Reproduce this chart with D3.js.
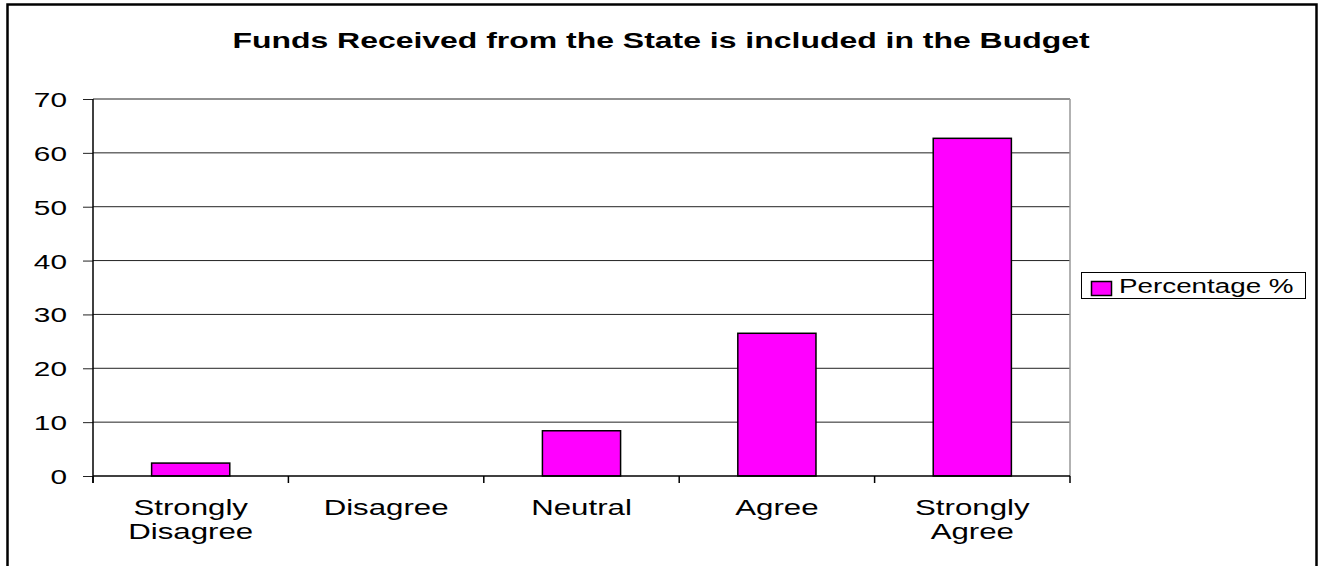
<!DOCTYPE html>
<html>
<head>
<meta charset="utf-8">
<script src="https://cdn.jsdelivr.net/npm/d3@7"></script>
<style>
  body { margin: 0; background: #fff; }
  svg { font-family: Arial, "Liberation Sans", sans-serif; }
</style>
</head>
<body>
<svg width="1322" height="566"></svg>
<script>
var categories = ["Strongly Disagree", "Disagree", "Neutral", "Agree", "Strongly Agree"];
var percentages = [2.4, 0, 8.4, 26.5, 62.7];
var yTicks = [0, 10, 20, 30, 40, 50, 60, 70];
var seriesName = "Percentage %";
var title = "Funds Received from the State is included in the Budget";

// the picture is stretched sideways, so text is widened the same way
var sx = 1.42;

var svg = d3.select("svg"),
  margin = { top: 99, right: 252, bottom: 90, left: 93 },
  width = +svg.attr("width") - margin.left - margin.right,
  height = +svg.attr("height") - margin.top - margin.bottom;

// outer chart border
svg.append("rect")
  .attr("x", 7.5).attr("y", 4.5)
  .attr("width", 1309).attr("height", 600)
  .attr("fill", "none").attr("stroke", "#000").attr("stroke-width", 2.5);

svg.append("text")
  .attr("transform", "translate(661,48) scale(" + sx + ",1)")
  .attr("text-anchor", "middle")
  .attr("font-size", 22.5)
  .attr("font-weight", "bold")
  .text(title);

var x = d3.scaleBand().domain(categories).range([0, width]).padding(0),
  y = d3.scaleLinear().domain([0, 70]).range([height, 0]);

var g = svg.append("g")
  .attr("transform", "translate(" + margin.left + "," + margin.top + ")");

// gridlines
g.selectAll(".grid")
  .data(yTicks.filter(function(d) { return d > 0; }))
  .enter().append("line")
  .attr("x1", 0).attr("x2", width)
  .attr("y1", function(d) { return y(d); })
  .attr("y2", function(d) { return y(d); })
  .attr("stroke", "#222").attr("stroke-width", 1);

// right edge of plot area
g.append("line")
  .attr("x1", width).attr("x2", width)
  .attr("y1", 0).attr("y2", height)
  .attr("stroke", "#999").attr("stroke-width", 1.5);

// bars
g.selectAll(".bar")
  .data(percentages.map(function(v, i) { return { cat: categories[i], v: v }; })
    .filter(function(d) { return d.v > 0; }))
  .enter().append("rect")
  .attr("class", "bar")
  .attr("x", function(d) { return x(d.cat) + x.bandwidth() * 0.3; })
  .attr("y", function(d) { return y(d.v); })
  .attr("width", x.bandwidth() * 0.4)
  .attr("height", function(d) { return height - y(d.v); })
  .attr("fill", "#FF00FF")
  .attr("stroke", "#000")
  .attr("stroke-width", 1.5);

// y axis
var yAxis = g.append("g")
  .call(d3.axisLeft(y).tickValues(yTicks).tickSize(10).tickPadding(0));
yAxis.select(".domain").remove();
yAxis.append("line")
  .attr("x1", 0).attr("x2", 0).attr("y1", 0).attr("y2", height + 7)
  .attr("stroke", "#000").attr("stroke-width", 1.5);
yAxis.selectAll(".tick line").attr("stroke", "#222");
yAxis.selectAll(".tick text")
  .attr("x", null).attr("dy", null)
  .attr("transform", "translate(-26,7.5) scale(" + sx + ",1)")
  .attr("fill", "#000")
  .attr("font-size", 21)
  .attr("font-family", "Arial, 'Liberation Sans', sans-serif");

// x axis
var xg = g.append("g").attr("transform", "translate(0," + height + ")");
xg.append("line")
  .attr("x1", 0).attr("x2", width)
  .attr("stroke", "#000").attr("stroke-width", 1.5);
xg.selectAll(".xtick")
  .data(d3.range(categories.length + 1))
  .enter().append("line")
  .attr("x1", function(i) { return i * x.step(); })
  .attr("x2", function(i) { return i * x.step(); })
  .attr("y1", 0).attr("y2", 7)
  .attr("stroke", "#000").attr("stroke-width", 1.5);

var lbl = xg.selectAll(".xlabel")
  .data(categories)
  .enter().append("text")
  .attr("transform", function(d) {
    return "translate(" + (x(d) + x.bandwidth() / 2) + ",39) scale(" + sx + ",1)";
  })
  .attr("text-anchor", "middle")
  .attr("font-size", 22);
lbl.selectAll("tspan")
  .data(function(d) { return d.split(" "); })
  .enter().append("tspan")
  .attr("x", 0)
  .attr("dy", function(d, i) { return i ? 24 : 0; })
  .text(function(d) { return d; });

// legend
var lg = svg.append("g").attr("transform", "translate(1081,272)");
lg.append("rect")
  .attr("x", 0.5).attr("y", 0.5)
  .attr("width", 224).attr("height", 26)
  .attr("fill", "#fff").attr("stroke", "#000").attr("stroke-width", 1);
lg.append("rect")
  .attr("x", 10.5).attr("y", 9.5)
  .attr("width", 20).attr("height", 14)
  .attr("fill", "#FF00FF").attr("stroke", "#000").attr("stroke-width", 1.5);
lg.append("text")
  .attr("transform", "translate(38,21) scale(1.39,1)")
  .attr("font-size", 20)
  .text(seriesName);
</script>
</body>
</html>
